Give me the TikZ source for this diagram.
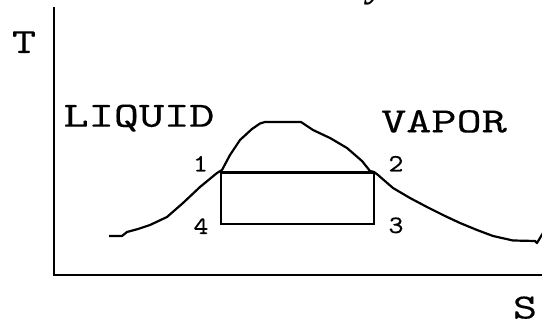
\documentclass[tikz,border=0pt]{standalone}
\usepackage{fontspec}
\usepackage{graphicx}
\newfontfamily\titlefont{Liberation Serif}
\newfontfamily\monof{lmmono10-regular.otf}[FakeBold=0.2]
\begin{document}
\begin{tikzpicture}[x=1pt,y=-1pt,
  biglbl/.style={font=\monof\fontsize{35.5}{36}\selectfont, inner sep=0pt, anchor=base},
  numlbl/.style={font=\monof\fontsize{25}{26}\selectfont, inner sep=0pt, anchor=base},
  axisline/.style={line width=2.6pt, line join=miter},
  curveline/.style={line width=2.2pt, line join=round},
  cycleline/.style={line width=2.2pt, line join=miter}]
\useasboundingbox (0,0) rectangle (542,323);
\clip (0,0) rectangle (542,323);
% fragment of a title glyph cut off at the top edge
\node[font=\titlefont\bfseries\itshape\fontsize{40}{40}\selectfont, inner sep=0pt, anchor=base west] (title) at (368,-3) {y};
% axes
\coordinate (ytop) at (54,7);
\coordinate (orig) at (54,275);
\coordinate (xend) at (543,275);
\draw[axisline] (ytop) -- (orig) -- (xend);
\node[biglbl] (T) at (24,53) {\scalebox{1.3}[1]{T}};
\node[biglbl] (S) at (525,318.5) {\scalebox{1.3}[1]{S}};
\node[biglbl] (liq) at (139,126.7) {\scalebox{1.35}[1]{LIQUID}};
\node[biglbl] (vap) at (444,132.3) {\scalebox{1.35}[1]{VAPOR}};
% saturation dome
\draw[curveline] (109,236) -- (122,236) -- (127,232) -- (138,229) -- (150,225) -- (167,217) -- (183,203)
  -- (200,187) -- (217,173) -- (222,170) -- (230,155) -- (240,140) -- (252,129) -- (260,123.5)
  -- (265,122) -- (301,122) -- (313,130) -- (330,138) -- (347,148) -- (362,161) -- (370,171)
  -- (374,172) -- (378,175) -- (393,188) -- (410,198) -- (427,207) -- (445,216) -- (460,223)
  -- (477,230) -- (493,236) -- (513,240.5) -- (535,241) -- (537,243) -- (543,233);
% cycle
\coordinate (p1) at (221,172.5);
\coordinate (p2) at (374,172.5);
\coordinate (p3) at (374,224);
\coordinate (p4) at (221,224);
\draw[cycleline] (p1) -- (p2) -- (p3) -- (p4) -- cycle;
\node[numlbl] (n1) at (200.5,171.5) {\scalebox{1.15}[1]{1}};
\node[numlbl] (n2) at (396,171.5) {\scalebox{1.15}[1]{2}};
\node[numlbl] (n3) at (396,233) {\scalebox{1.15}[1]{3}};
\node[numlbl] (n4) at (201,234) {\scalebox{1.15}[1]{4}};
\end{tikzpicture}
\end{document}
